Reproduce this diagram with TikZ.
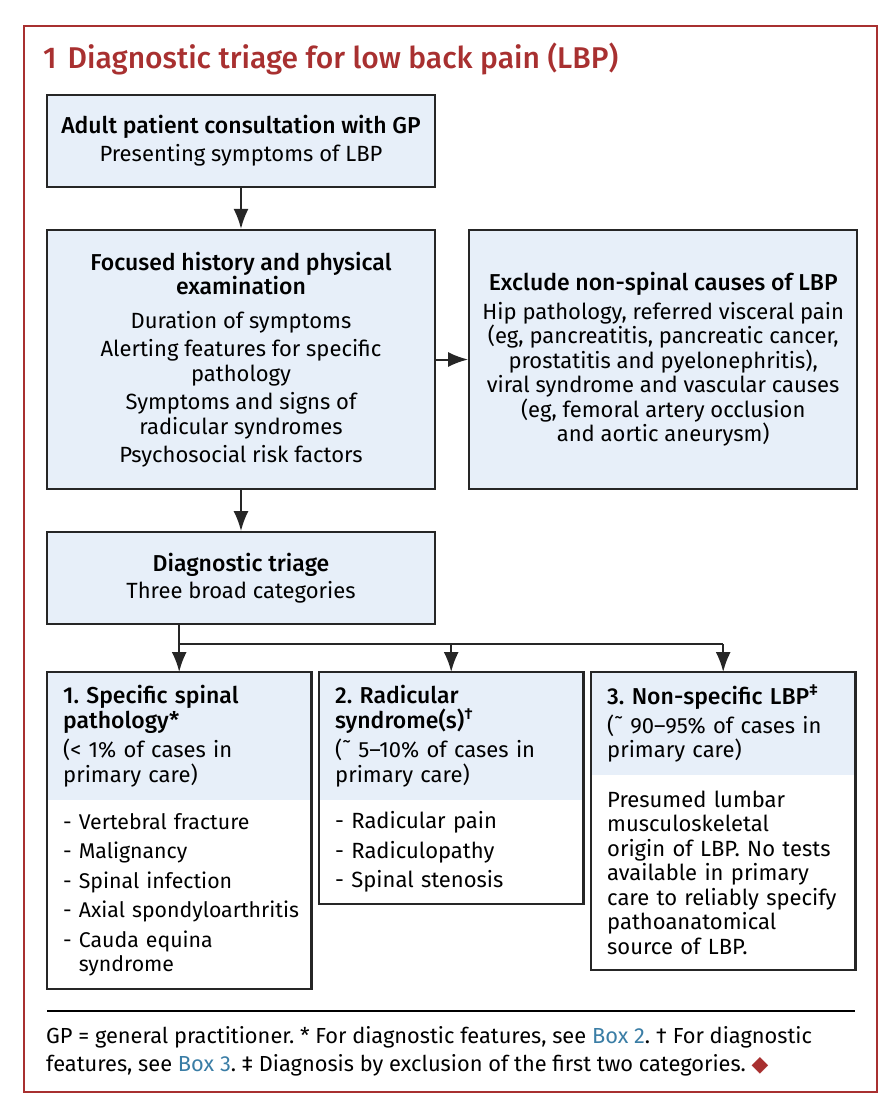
\documentclass[tikz,border=0pt]{standalone}
\usepackage{fontspec}
\setmainfont{Fira Sans}[BoldFont={Fira Sans Medium}]
\newfontfamily\symfont{DejaVu Sans}
\usetikzlibrary{positioning, arrows.meta}
\definecolor{framered}{RGB}{168,48,48}
\definecolor{boxblue}{RGB}{231,239,249}
\definecolor{linkblue}{RGB}{58,125,165}
\newcommand{\headtext}[1]{{\fontsize{23}{24.5}\selectfont\bfseries #1}}
\frenchspacing
\hyphenpenalty=10000
\exhyphenpenalty=10000

\begin{document}
\begin{tikzpicture}[x=1pt, y=-1pt, >={Latex[length=20pt,width=15pt]},
    font=\fontsize{22}{24.5}\selectfont,
    flowbox/.style={draw=black!85, line width=2.2pt, fill=boxblue, align=center,
        minimum width=388pt, inner sep=0pt},
    headbox/.style={fill=boxblue, align=left, text width=232pt, inner xsep=16pt,
        inner ysep=0pt, anchor=north west, minimum height=#1},
    bodybox/.style={align=left, text width=232pt, inner xsep=16pt, inner ysep=0pt,
        below=0pt of #1},
    link/.style={line width=2pt, draw=black!85}]
    \useasboundingbox (0,0) rectangle (894,1112);

    % Outer frame and title
    \draw[framered, line width=2pt] (24,26) rectangle (877,1092);
    \node[anchor=base west, text=framered, inner sep=0pt,
        font=\fontsize{30}{32}\selectfont\bfseries] (title) at (43,68)
        {1\hspace{11pt}Diagnostic triage for low back pain (LBP)};

    % Consultation, history, exclusion and triage
    \node[flowbox, minimum height=259pt] (history) at (241,359.5)
        {\headtext{Focused history and physical}\\\headtext{examination}\\[9pt]
         Duration of symptoms\\[4pt]
         Alerting features for specific\\pathology\\[4pt]
         Symptoms and signs of\\radicular syndromes\\[4pt]
         Psychosocial risk factors};
    \node[flowbox, minimum height=92pt, above=41pt of history] (consult)
        {\headtext{Adult patient consultation with GP}\\[3pt]Presenting symptoms of LBP};
    \node[flowbox, minimum height=259pt, right=32pt of history] (exclude)
        {\headtext{Exclude non-spinal causes of LBP}\\[4pt]
         Hip pathology, referred visceral pain\\
         (eg, pancreatitis, pancreatic cancer,\\
         prostatitis and pyelonephritis),\\
         viral syndrome and vascular causes\\
         (eg, femoral artery occlusion\\
         and aortic aneurysm)};
    \node[flowbox, minimum height=92pt, below=41pt of history] (triage)
        {\headtext{Diagnostic triage}\\[3pt]Three broad categories};

    % Three categories (shaded heading, plain body)
    \node[headbox=128pt] (spech) at (47,672)
        {\headtext{1. Specific spinal}\\\headtext{pathology*}\\[5pt]
         (< 1\% of cases in\\primary care)};
    \node[bodybox=spech, minimum height=188pt, font=\fontsize{21.3}{24.5}\selectfont] (specb)
        {- Vertebral fracture\\[5pt]
         - Malignancy\\[5pt]
         - Spinal infection\\[5pt]
         \mbox{- Axial spondyloarthritis}\\[5pt]
         - Cauda equina\\\hphantom{- }syndrome};

    \node[headbox=128pt] (radh) at (319,672)
        {\headtext{2. Radicular}\\\headtext{syndrome(s)\textsuperscript{†}}\\[5pt]
         (˜ 5--10\% of cases in\\primary care)};
    \node[bodybox=radh, minimum height=103pt] (radb)
        {- Radicular pain\\[5pt]
         - Radiculopathy\\[5pt]
         - Spinal stenosis};

    \node[headbox=103pt] (nonh) at (591,672)
        {\headtext{3. Non-specific LBP\textsuperscript{‡}}\\[4pt]
         (˜ 90--95\% of cases in\\primary care)};
    \node[bodybox=nonh, minimum height=194pt] (nonb)
        {Presumed lumbar\\musculoskeletal\\origin of LBP. No tests\\
         available in primary\\care to reliably specify\\
         pathoanatomical\\source of LBP.};

    \foreach \h/\b in {spech/specb, radh/radb, nonh/nonb}
        \draw[line width=2.2pt, draw=black!85] (\h.north west) rectangle (\b.south east);

    % Connectors
    \draw[link, ->] (consult) -- (history);
    \draw[link, ->] (history) -- (exclude);
    \draw[link, ->] (history) -- (triage);
    \coordinate (split) at (triage.south -| spech.north);
    \coordinate (fork) at ([yshift=-19pt]split);
    \draw[link, ->] (split) -- (spech.north);
    \draw[link] (fork) -- (fork -| nonh.north);
    \draw[link, ->] (fork -| radh.north) -- (radh.north);
    \draw[link, ->] (fork -| nonh.north) -- (nonh.north);

    % Footnote
    \draw[line width=2.5pt] (47,1011) -- (855,1011);
    \node[anchor=north west, align=left, inner sep=0pt,
        font=\fontsize{21.8}{28}\selectfont] (notes) at (46,1026)
        {GP = general practitioner. * For diagnostic features, see
         {\color{linkblue}Box 2}. † For diagnostic\\
         features, see {\color{linkblue}Box 3}. ‡ Diagnosis by exclusion
         of the first two categories. {\color{framered}\symfont ◆}};
\end{tikzpicture}
\end{document}
